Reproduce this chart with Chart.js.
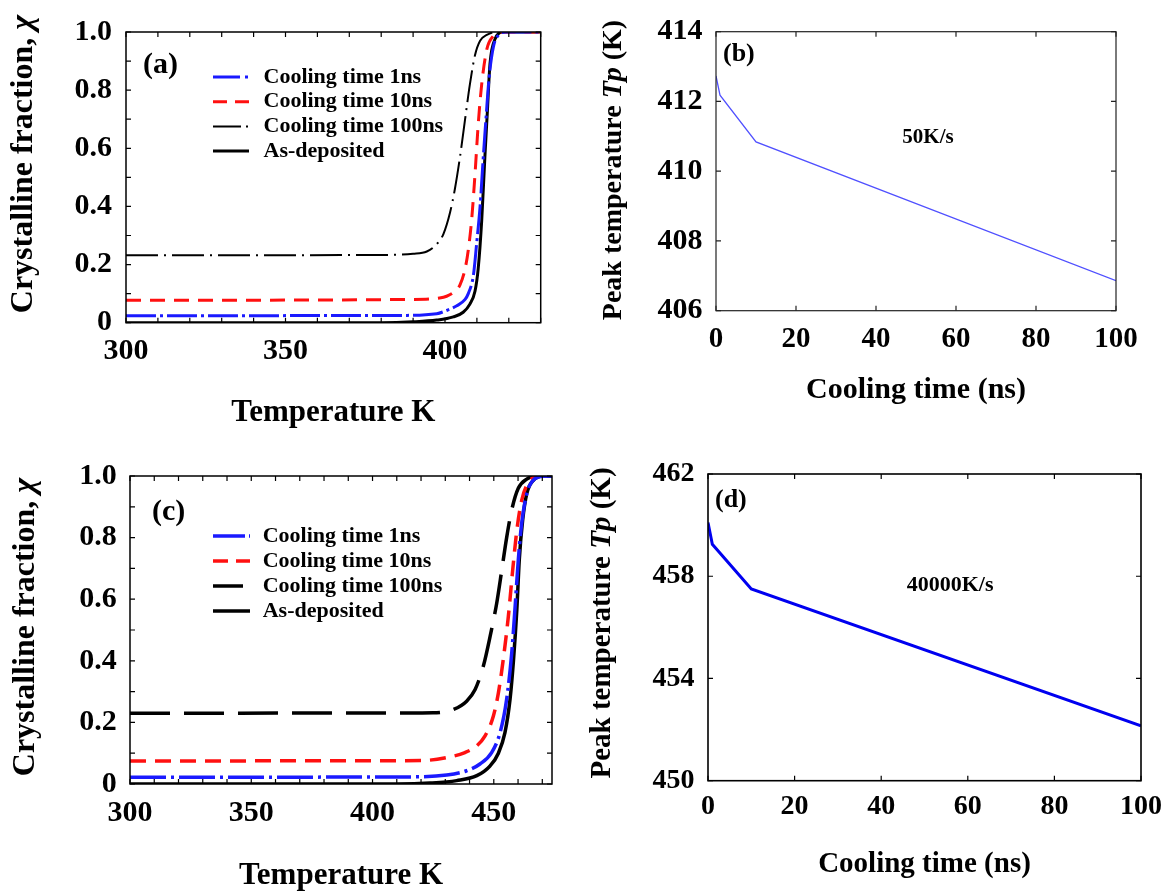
<!DOCTYPE html>
<html>
<head>
<meta charset="utf-8">
<script src="https://cdn.jsdelivr.net/npm/chart.js@4.4.1/dist/chart.umd.min.js"></script>
<style>
  html, body { margin: 0; padding: 0; background: #fff; }
  body { width: 1173px; height: 894px; position: relative; overflow: hidden; }
  .panel { position: absolute; }
  canvas { display: block; }
</style>
</head>
<body>
<div class="panel" style="left:0;top:0"><canvas id="pa" width="586" height="440"></canvas></div>
<div class="panel" style="left:586px;top:0"><canvas id="pb" width="587" height="440"></canvas></div>
<div class="panel" style="left:0;top:440px"><canvas id="pc" width="586" height="454"></canvas></div>
<div class="panel" style="left:586px;top:440px"><canvas id="pd" width="587" height="454"></canvas></div>

<script>
// ---- (a) crystalline fraction vs temperature, 50 K/s heating: [T (K), chi] ----
const fracA_1ns = [[300,0.024],[385,0.025],[397.4,0.031],[400.5,0.042],[403.7,0.058],[406.3,0.08],[407.3,0.10],[408.9,0.163],[409.9,0.27],[411,0.40],[412,0.57],[412.9,0.71],[413.8,0.84],[415.2,0.95],[416.8,0.99],[419,1.0],[430,1.0]];
const fracA_10ns = [[300,0.077],[389,0.08],[398.3,0.085],[400.5,0.091],[403.1,0.108],[404.7,0.13],[406.3,0.185],[407.3,0.25],[408.4,0.36],[409.4,0.51],[410.4,0.68],[411.5,0.82],[413.1,0.94],[415.2,0.987],[417.3,1.0],[430,1.0]];
const fracA_100ns = [[300,0.232],[380,0.233],[390,0.237],[394.3,0.245],[397.4,0.27],[399.5,0.305],[401.6,0.38],[403.1,0.46],[404.7,0.57],[406.3,0.70],[407.8,0.82],[409.4,0.92],[411,0.97],[413.1,0.99],[416.2,1.0],[430,1.0]];
const fracA_asdep = [[300,0],[380,0],[390,0.003],[397.4,0.009],[402.6,0.02],[405.7,0.036],[407.8,0.064],[409.4,0.108],[410.4,0.185],[411.5,0.35],[412.5,0.57],[413.3,0.73],[414.1,0.89],[415.7,0.976],[418.3,1.0],[430,1.0]];

// ---- (c) crystalline fraction vs temperature, 40000 K/s heating ----
const fracC_1ns = [[300,0.022],[415,0.023],[430.6,0.029],[438.8,0.043],[444.3,0.065],[449.1,0.102],[452.6,0.167],[455.3,0.275],[457.4,0.426],[458.8,0.577],[460.1,0.727],[461.5,0.846],[463.6,0.943],[465.6,0.98],[468.4,0.997],[474,1.0]];
const fracC_10ns = [[300,0.075],[420,0.076],[430.6,0.086],[438.1,0.102],[443,0.124],[446.4,0.156],[449.8,0.22],[451.9,0.296],[453.9,0.404],[456,0.544],[457.8,0.695],[459.5,0.824],[461.5,0.921],[463.6,0.97],[466.3,0.995],[469,1.0],[474,1.0]];
const fracC_100ns = [[300,0.23],[425,0.231],[433.3,0.242],[438.8,0.269],[442.3,0.307],[445.7,0.383],[448.5,0.48],[451.2,0.587],[453.3,0.695],[455.3,0.80],[457.4,0.89],[460.1,0.96],[463.6,0.99],[467.6,1.0],[474,1.0]];
const fracC_asdep = [[300,0],[410,0],[423.7,0.003],[434.7,0.011],[443,0.027],[448.5,0.059],[451.9,0.10],[454.6,0.167],[456.7,0.275],[458.1,0.40],[459.5,0.566],[460.5,0.727],[461.9,0.857],[463.6,0.943],[466.3,0.986],[470.4,1.0],[474,1.0]];

// ---- (b), (d) peak temperature vs cooling time ----
const coolTime = [0, 1, 10, 100];
const peakB = [412.73, 412.18, 410.84, 406.86];
const peakD = [460.1, 459.25, 457.5, 452.15];

// labelled ticks
const tempLabelsA = [300, 350, 400];
const tempLabelsC = [300, 350, 400, 450];
const fracLabels = [0, 0.2, 0.4, 0.6, 0.8, 1.0];

const seriesNames = ['Cooling time 1ns', 'Cooling time 10ns', 'Cooling time 100ns', 'As-deposited'];

const SERIF = "'Liberation Serif','Times New Roman',serif";
const font = (size) => ({ family: SERIF, size: size, weight: 'bold' });

// decorations per canvas: frame, inward ticks, rotated y title, panel tag, note, legend
const decor = {
  pa: { frameColor: '#000', frameWidth: 1.5, tick: 5,
        yTitle: { parts: [['Crystalline fraction, ', false], ['\u03c7', true]], x: 24, y: 164, size: 32 },
        tag: { text: '(a)', dx: 17, dy: 33, size: 30 },
        legend: { x: 213, y: 77, dy: 24.7, len: 36, gap: 14.5, size: 22 } },
  pb: { frameColor: '#222', frameWidth: 1.2, tick: 5,
        yTitle: { parts: [['Peak temperature ', false], ['Tp', true], [' (K)', false]], x: 28, y: 170, size: 28 },
        tag: { text: '(b)', dx: 7, dy: 23, size: 26 },
        note: { text: '50K/s', x: 53, y: 410.95, size: 21 } },
  pc: { frameColor: '#000', frameWidth: 1.5, tick: 5,
        yTitle: { parts: [['Crystalline fraction, ', false], ['\u03c7', true]], x: 26, y: 187, size: 32 },
        tag: { text: '(c)', dx: 22, dy: 36, size: 30 },
        legend: { x: 213, y: 96, dy: 25, len: 37, gap: 12.7, size: 22 } },
  pd: { frameColor: '#000', frameWidth: 1.6, tick: 5,
        yTitle: { parts: [['Peak temperature ', false], ['Tp', true], [' (K)', false]], x: 17, y: 183, size: 29 },
        tag: { text: '(d)', dx: 7, dy: 26, size: 26 },
        note: { text: '40000K/s', x: 55.9, y: 457.66, size: 22 } }
};

const panelDecor = {
  id: 'panelDecor',
  afterDraw(chart) {
    const d = decor[chart.canvas.id];
    if (!d) return;
    const ctx = chart.ctx, a = chart.chartArea;
    const xs = chart.scales.x, ys = chart.scales.y;
    ctx.save();
    // inward tick marks on all four sides
    ctx.strokeStyle = d.frameColor;
    ctx.lineWidth = 1.2;
    ctx.beginPath();
    xs.ticks.forEach(t => {
      const px = xs.getPixelForValue(t.value);
      ctx.moveTo(px, a.bottom); ctx.lineTo(px, a.bottom - d.tick);
      ctx.moveTo(px, a.top); ctx.lineTo(px, a.top + d.tick);
    });
    ys.ticks.forEach(t => {
      const py = ys.getPixelForValue(t.value);
      ctx.moveTo(a.left, py); ctx.lineTo(a.left + d.tick, py);
      ctx.moveTo(a.right, py); ctx.lineTo(a.right - d.tick, py);
    });
    ctx.stroke();
    // plot frame
    ctx.lineWidth = d.frameWidth;
    ctx.strokeRect(a.left, a.top, a.right - a.left, a.bottom - a.top);

    ctx.fillStyle = '#000';
    // rotated y-axis title with italic symbol
    const yt = d.yTitle;
    ctx.save();
    ctx.translate(yt.x, yt.y);
    ctx.rotate(-Math.PI / 2);
    ctx.textBaseline = 'middle';
    ctx.textAlign = 'left';
    const fontOf = (it) => (it ? 'italic ' : '') + 'bold ' + yt.size + 'px ' + SERIF;
    let total = 0;
    yt.parts.forEach(([s, it]) => { ctx.font = fontOf(it); total += ctx.measureText(s).width; });
    let cx = -total / 2;
    yt.parts.forEach(([s, it]) => { ctx.font = fontOf(it); ctx.fillText(s, cx, 0); cx += ctx.measureText(s).width; });
    ctx.restore();

    // panel tag
    ctx.textBaseline = 'middle';
    ctx.textAlign = 'left';
    ctx.font = 'bold ' + d.tag.size + 'px ' + SERIF;
    ctx.fillText(d.tag.text, a.left + d.tag.dx, a.top + d.tag.dy);

    // annotation placed in data coordinates
    if (d.note) {
      ctx.textAlign = 'center';
      ctx.font = 'bold ' + d.note.size + 'px ' + SERIF;
      ctx.fillText(d.note.text, xs.getPixelForValue(d.note.x), ys.getPixelForValue(d.note.y));
    }

    // legend built from the datasets' own styles
    if (d.legend) {
      const L = d.legend;
      chart.data.datasets.forEach((ds, i) => {
        const y = L.y + i * L.dy;
        ctx.strokeStyle = ds.borderColor;
        ctx.lineWidth = ds.borderWidth;
        ctx.setLineDash(ds.legendDash || []);
        ctx.beginPath(); ctx.moveTo(L.x, y); ctx.lineTo(L.x + L.len, y); ctx.stroke();
        ctx.setLineDash([]);
        ctx.fillStyle = '#000';
        ctx.textAlign = 'left';
        ctx.font = 'bold ' + L.size + 'px ' + SERIF;
        ctx.fillText(ds.label, L.x + L.len + L.gap, y);
      });
    }
    ctx.restore();
  }
};

const pts = (arr) => arr.map(([x, y]) => ({ x, y }));
const near = (v, list) => list.find(l => Math.abs(l - v) < 1e-6);

function fracChart(id, series, styles, xMax, xLabels, lay) {
  const datasets = series.map((s, i) => Object.assign({
    label: seriesNames[i], data: pts(s), pointRadius: 0, fill: false,
    cubicInterpolationMode: 'monotone'
  }, styles[i]));
  return new Chart(document.getElementById(id), {
    type: 'line',
    data: { datasets },
    plugins: [panelDecor],
    options: {
      responsive: false, animation: false, events: [],
      layout: { padding: { left: 0, top: lay.top, right: lay.right, bottom: 0 } },
      plugins: { legend: { display: false }, tooltip: { enabled: false } },
      scales: {
        x: {
          type: 'linear', min: 300, max: xMax,
          afterFit: (s) => { s.height = lay.xh; },
          grid: { display: false, drawTicks: false }, border: { display: false },
          ticks: { stepSize: 10, includeBounds: false, autoSkip: false, maxRotation: 0, padding: lay.xpad,
                   color: '#000', font: font(30),
                   callback: (v) => { const l = near(v, xLabels); return l === undefined ? '' : String(l); } },
          title: { display: true, text: 'Temperature K', color: '#000', font: font(31),
                   padding: { top: 0, bottom: lay.tpad } }
        },
        y: {
          type: 'linear', min: 0, max: 1,
          afterFit: (s) => { s.width = lay.yw; },
          grid: { display: false, drawTicks: false }, border: { display: false },
          ticks: { stepSize: 0.1, includeBounds: false, autoSkip: false, padding: lay.ypad,
                   color: '#000', font: font(30),
                   callback: (v) => { const l = near(v, fracLabels); return l === undefined ? '' : (l === 0 ? '0' : l.toFixed(1)); } }
        }
      }
    }
  });
}

function peakChart(id, values, style, yMin, yMax, yStep, lay) {
  return new Chart(document.getElementById(id), {
    type: 'line',
    data: { datasets: [Object.assign({ data: coolTime.map((t, i) => ({ x: t, y: values[i] })), pointRadius: 0, fill: false, tension: 0 }, style)] },
    plugins: [panelDecor],
    options: {
      responsive: false, animation: false, events: [],
      layout: { padding: { left: 0, top: lay.top, right: lay.right, bottom: 0 } },
      plugins: { legend: { display: false }, tooltip: { enabled: false } },
      scales: {
        x: {
          type: 'linear', min: 0, max: 100,
          afterFit: (s) => { s.height = lay.xh; },
          grid: { display: false, drawTicks: false }, border: { display: false },
          ticks: { stepSize: 20, autoSkip: false, maxRotation: 0, padding: lay.xpad, color: '#000', font: font(lay.xfs) },
          title: { display: true, text: 'Cooling time (ns)', color: '#000', font: font(lay.tfs),
                   padding: { top: 0, bottom: lay.tpad } }
        },
        y: {
          type: 'linear', min: yMin, max: yMax,
          afterFit: (s) => { s.width = lay.yw; },
          grid: { display: false, drawTicks: false }, border: { display: false },
          ticks: { stepSize: yStep, autoSkip: false, padding: lay.ypad, color: '#000', font: font(lay.yfs) }
        }
      }
    }
  });
}

// line styles for the four fraction curves
const stylesA = [
  { borderColor: '#1a1aff', borderWidth: 3, borderDash: [30, 4, 3, 4], legendDash: [27, 5, 3, 10] },
  { borderColor: '#ff1010', borderWidth: 3, borderDash: [15, 9], legendDash: [14, 8] },
  { borderColor: '#000000', borderWidth: 2, borderDash: [32, 6, 2, 6], legendDash: [28, 5, 2, 10] },
  { borderColor: '#000000', borderWidth: 3, borderDash: [], legendDash: [] }
];
const stylesC = [
  { borderColor: '#1a1aff', borderWidth: 3.5, borderDash: [36, 5, 3, 5], legendDash: [32, 4, 3, 10] },
  { borderColor: '#ff1010', borderWidth: 3.5, borderDash: [16, 9], legendDash: [15, 8] },
  { borderColor: '#000000', borderWidth: 3.5, borderDash: [40, 14], legendDash: [30, 20] },
  { borderColor: '#000000', borderWidth: 3.5, borderDash: [], legendDash: [] }
];

fracChart('pa', [fracA_1ns, fracA_10ns, fracA_100ns, fracA_asdep], stylesA, 430, tempLabelsA,
  { top: 19, right: 45.3, xh: 117.3, yw: 126, xpad: 11, ypad: 14, tpad: 8.4 });
fracChart('pc', [fracC_1ns, fracC_10ns, fracC_100ns, fracC_asdep], stylesC, 474, tempLabelsC,
  { top: 36, right: 34, xh: 110, yw: 130, xpad: 11.3, ypad: 13.2, tpad: -1 });

peakChart('pb', peakB, { borderColor: 'rgb(80,80,255)', borderWidth: 1.3 }, 406, 414, 2,
  { top: 31.7, right: 57, xh: 129.3, yw: 130, xpad: 11.9, ypad: 13.6, tpad: 32, xfs: 29, yfs: 30, tfs: 30 });
peakChart('pd', peakD, { borderColor: '#0000f0', borderWidth: 3 }, 450, 462, 4,
  { top: 34, right: 32, xh: 113.3, yw: 122, xpad: 9.2, ypad: 13.6, tpad: 11.6, xfs: 28, yfs: 28, tfs: 29 });
</script>
</body>
</html>
